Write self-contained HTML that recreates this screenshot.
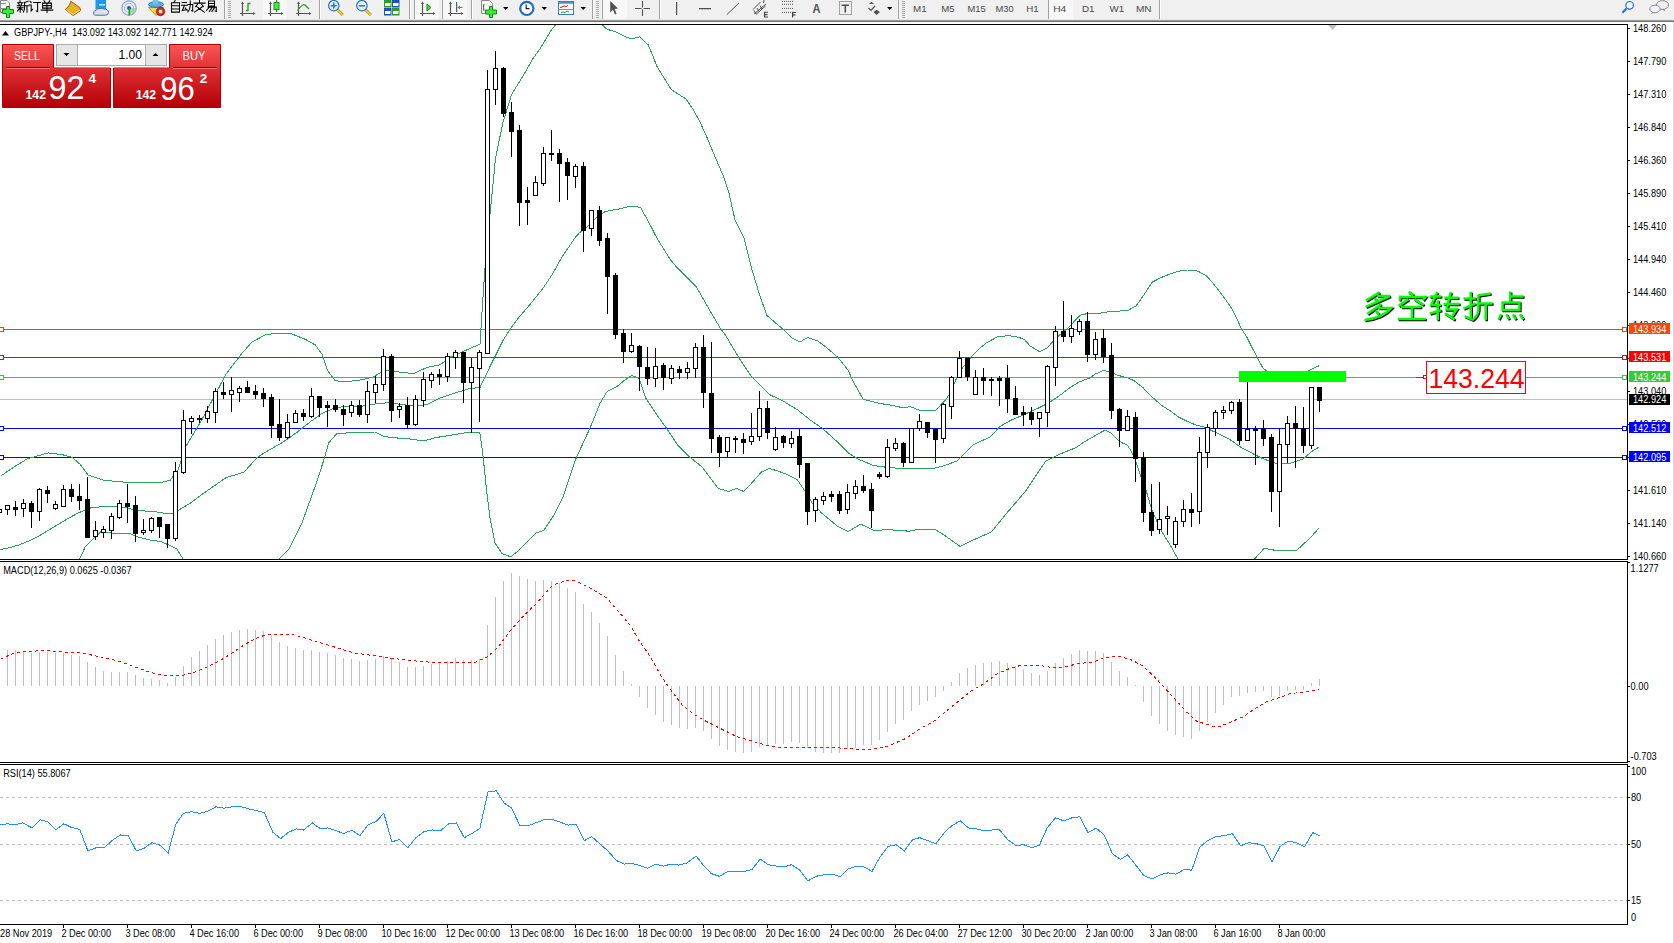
<!DOCTYPE html>
<html><head><meta charset="utf-8"><title>MT4 GBPJPY H4</title>
<style>html,body{margin:0;padding:0;width:1674px;height:943px;overflow:hidden;background:#fff}</style>
</head><body>
<svg width="1674" height="943" viewBox="0 0 1674 943" style="position:absolute;left:0;top:0;font-family:'Liberation Sans',sans-serif"><rect x="0" y="0" width="1674" height="943" fill="#fff"/><rect x="0" y="0" width="1674" height="20" fill="#f0f0f0"/><rect x="0" y="19" width="1674" height="1" fill="#e6e6e6"/><rect x="0" y="20" width="1674" height="1" fill="#a0a0a0"/><rect x="0" y="21" width="1674" height="1" fill="#6e6e6e"/><rect x="0" y="22" width="1674" height="2" fill="#ffffff"/><defs><clipPath id="cMain"><rect x="0" y="25" width="1627" height="534"/></clipPath><clipPath id="cMacd"><rect x="0" y="562" width="1627" height="200"/></clipPath><clipPath id="cRsi"><rect x="0" y="765" width="1627" height="159"/></clipPath></defs><rect x="0" y="24" width="1628" height="1" fill="#000"/><rect x="1627" y="24" width="1" height="536" fill="#000"/><rect x="0" y="559" width="1628" height="1" fill="#000"/><rect x="0" y="561" width="1628" height="1" fill="#000"/><rect x="1627" y="561" width="1" height="202" fill="#000"/><rect x="0" y="762" width="1628" height="1" fill="#000"/><rect x="0" y="764" width="1628" height="1" fill="#000"/><rect x="1627" y="764" width="1" height="161" fill="#000"/><rect x="0" y="924" width="1628" height="1" fill="#000"/><rect x="1673" y="22" width="1" height="921" fill="#d4d4d4"/><rect x="1628" y="28" width="2" height="1" fill="#000"/><text x="1633" y="32" font-size="10" fill="#000" textLength="33.26" lengthAdjust="spacingAndGlyphs">148.260</text><rect x="1628" y="61" width="2" height="1" fill="#000"/><text x="1633" y="65" font-size="10" fill="#000" textLength="33.26" lengthAdjust="spacingAndGlyphs">147.790</text><rect x="1628" y="94" width="2" height="1" fill="#000"/><text x="1633" y="98" font-size="10" fill="#000" textLength="33.26" lengthAdjust="spacingAndGlyphs">147.310</text><rect x="1628" y="127" width="2" height="1" fill="#000"/><text x="1633" y="131" font-size="10" fill="#000" textLength="33.26" lengthAdjust="spacingAndGlyphs">146.840</text><rect x="1628" y="160" width="2" height="1" fill="#000"/><text x="1633" y="164" font-size="10" fill="#000" textLength="33.26" lengthAdjust="spacingAndGlyphs">146.360</text><rect x="1628" y="193" width="2" height="1" fill="#000"/><text x="1633" y="197" font-size="10" fill="#000" textLength="33.26" lengthAdjust="spacingAndGlyphs">145.890</text><rect x="1628" y="226" width="2" height="1" fill="#000"/><text x="1633" y="230" font-size="10" fill="#000" textLength="33.26" lengthAdjust="spacingAndGlyphs">145.410</text><rect x="1628" y="259" width="2" height="1" fill="#000"/><text x="1633" y="263" font-size="10" fill="#000" textLength="33.26" lengthAdjust="spacingAndGlyphs">144.940</text><rect x="1628" y="292" width="2" height="1" fill="#000"/><text x="1633" y="296" font-size="10" fill="#000" textLength="33.26" lengthAdjust="spacingAndGlyphs">144.460</text><rect x="1628" y="325" width="2" height="1" fill="#000"/><text x="1633" y="329" font-size="10" fill="#000" textLength="33.26" lengthAdjust="spacingAndGlyphs">143.990</text><rect x="1628" y="358" width="2" height="1" fill="#000"/><text x="1633" y="362" font-size="10" fill="#000" textLength="33.26" lengthAdjust="spacingAndGlyphs">143.510</text><rect x="1628" y="391" width="2" height="1" fill="#000"/><text x="1633" y="395" font-size="10" fill="#000" textLength="33.26" lengthAdjust="spacingAndGlyphs">143.040</text><rect x="1628" y="424" width="2" height="1" fill="#000"/><text x="1633" y="428" font-size="10" fill="#000" textLength="33.26" lengthAdjust="spacingAndGlyphs">142.560</text><rect x="1628" y="457" width="2" height="1" fill="#000"/><text x="1633" y="461" font-size="10" fill="#000" textLength="33.26" lengthAdjust="spacingAndGlyphs">142.090</text><rect x="1628" y="490" width="2" height="1" fill="#000"/><text x="1633" y="494" font-size="10" fill="#000" textLength="33.26" lengthAdjust="spacingAndGlyphs">141.610</text><rect x="1628" y="523" width="2" height="1" fill="#000"/><text x="1633" y="527" font-size="10" fill="#000" textLength="33.26" lengthAdjust="spacingAndGlyphs">141.140</text><rect x="1628" y="556" width="2" height="1" fill="#000"/><text x="1633" y="560" font-size="10" fill="#000" textLength="33.26" lengthAdjust="spacingAndGlyphs">140.660</text><polygon points="1328,25 1337,25 1332.5,30" fill="#c0c0c0"/><g clip-path="url(#cMain)" shape-rendering="crispEdges"><rect x="0" y="399" width="1627" height="1" fill="#c0c0c0"/><rect x="0" y="329" width="1622" height="1" fill="#ff4500"/><rect x="-0.5" y="327.5" width="4" height="4" fill="#fff" stroke="#ff4500" stroke-width="1"/><rect x="1622.5" y="327.5" width="4" height="4" fill="#fff" stroke="#ff4500" stroke-width="1"/><rect x="0" y="357" width="1622" height="1" fill="#ff0000"/><rect x="-0.5" y="355.5" width="4" height="4" fill="#fff" stroke="#ff0000" stroke-width="1"/><rect x="1622.5" y="355.5" width="4" height="4" fill="#fff" stroke="#ff0000" stroke-width="1"/><rect x="0" y="377" width="1622" height="1" fill="#32cd32"/><rect x="-0.5" y="375.5" width="4" height="4" fill="#fff" stroke="#32cd32" stroke-width="1"/><rect x="1622.5" y="375.5" width="4" height="4" fill="#fff" stroke="#32cd32" stroke-width="1"/><rect x="0" y="428" width="1622" height="1" fill="#0000ff"/><rect x="-0.5" y="426.5" width="4" height="4" fill="#fff" stroke="#0000ff" stroke-width="1"/><rect x="1622.5" y="426.5" width="4" height="4" fill="#fff" stroke="#0000ff" stroke-width="1"/><rect x="0" y="457" width="1622" height="1" fill="#0000ff"/><rect x="-0.5" y="455.5" width="4" height="4" fill="#fff" stroke="#0000ff" stroke-width="1"/><rect x="1622.5" y="455.5" width="4" height="4" fill="#fff" stroke="#0000ff" stroke-width="1"/></g><g clip-path="url(#cMain)" shape-rendering="crispEdges"><polyline points="0.5,476.3 13.8,467.0 27.0,459.0 48.2,452.9 61.5,454.5 72.1,457.2 80.1,464.3 88.0,475.0 103.9,480.3 133.1,482.9 159.7,482.9 170.3,480.3 178.2,469.5 186.2,445.8 202.1,419.3 226.0,374.2 241.1,354.3 251.7,342.3 265.0,334.9 278.2,333.0 291.5,333.8 304.8,339.1 315.4,345.0 322.0,354.3 327.3,370.2 335.3,380.8 347.2,381.6 360.5,380.0 373.7,376.8 384.3,370.2 395.0,371.5 413.5,373.6 426.8,367.5 440.0,364.9 450.7,356.9 461.3,352.4 471.9,347.6 480.0,344.2 482.0,312.1 484.8,270.1 490.2,212.5 495.5,158.5 502.8,122.9 511.7,94.2 520.7,79.8 533.2,58.3 540.5,48.0 551.1,30.5 556.5,23.5 600.5,23.5 607.3,29.4 614.7,31.5 625.3,36.8 631.7,38.9 639.7,36.8 648.1,44.8 651.8,53.3 657.2,67.0 662.5,75.5 671.5,89.8 685.8,98.9 693.2,109.5 699.5,121.1 705.8,134.7 715.9,158.8 723.6,176.7 728.7,191.9 735.0,219.9 743.9,237.7 751.6,268.3 759.2,293.7 766.8,315.3 777.0,324.2 784.6,330.6 792.3,338.2 799.9,342.1 807.5,337.5 817.7,340.8 827.7,348.5 837.9,357.4 848.1,370.1 853.2,381.6 863.3,399.4 878.6,403.2 893.9,405.7 903.7,408.0 910.0,406.6 919.1,410.1 936.0,410.1 941.3,404.3 945.0,400.6 949.8,393.7 954.6,383.1 956.7,377.8 963.1,367.2 965.7,364.0 971.5,356.6 974.7,353.4 980.0,348.1 986.4,342.8 990.5,340.6 998.5,336.3 1009.6,335.8 1019.1,337.4 1024.7,339.8 1030.2,346.1 1039.8,351.7 1047.7,347.7 1054.1,339.8 1060.5,334.2 1068.4,327.9 1074.8,320.7 1080.3,315.1 1087.5,313.6 1098.1,313.5 1108.9,311.7 1127.8,310.5 1136.0,306.0 1143.2,296.0 1152.2,282.2 1161.2,277.5 1173.8,272.6 1181.0,270.8 1187.5,270.0 1193.9,270.0 1199.6,272.0 1207.2,276.4 1213.6,284.0 1218.7,290.4 1225.0,298.7 1231.4,308.2 1236.5,317.8 1241.6,329.2 1246.7,336.8 1251.7,347.0 1256.8,356.6 1263.2,368.6 1268.3,371.8 1287.5,372.5 1308.5,371.0 1316.7,366.5 1319.3,365.8" fill="none" stroke="#2aa65c" stroke-width="1"/><polyline points="0.5,549.5 10.0,547.6 19.6,544.7 29.1,540.9 38.7,536.1 48.2,530.4 57.8,524.7 67.3,518.9 76.8,513.7 86.4,509.4 92.1,507.5 100.6,506.9 117.7,506.9 123.7,507.4 130.8,508.9 140.9,510.7 156.0,511.9 168.0,513.9 174.1,512.9 178.1,510.4 190.2,503.3 199.4,496.2 226.0,477.6 243.8,472.3 257.0,457.7 265.0,452.4 283.5,441.8 296.8,432.5 310.1,421.9 323.3,412.6 336.6,407.3 349.9,406.5 363.1,406.0 379.0,403.3 389.7,402.8 402.9,404.7 416.2,406.0 426.8,404.7 440.0,398.0 456.0,392.7 469.2,388.7 480.0,387.5 485.8,375.1 495.3,356.0 502.9,340.7 510.6,328.3 520.1,315.9 531.6,302.6 543.0,288.2 552.6,273.9 562.1,256.8 570.5,244.5 575.0,237.8 579.4,232.8 587.2,226.7 596.1,217.8 603.9,212.2 609.5,210.5 617.3,209.4 627.3,206.9 636.2,206.6 640.7,207.7 648.5,221.7 656.2,236.7 662.9,247.8 670.7,260.1 676.3,266.8 690.5,281.0 696.3,286.8 703.2,298.8 713.4,316.6 721.0,329.3 725.9,335.8 738.7,357.4 751.4,376.5 769.2,394.3 784.5,401.9 797.2,409.6 809.9,419.7 822.6,428.6 835.4,440.1 848.1,452.8 858.3,459.2 873.5,465.5 888.8,467.6 904.1,468.6 921.9,468.6 934.6,468.1 944.8,465.5 956.9,461.0 973.4,444.6 990.5,436.8 1000.0,426.4 1009.6,420.9 1022.3,415.3 1035.0,409.7 1046.1,404.2 1054.1,399.4 1062.0,393.8 1070.0,387.5 1079.5,381.9 1090.5,377.6 1094.5,374.4 1103.5,370.5 1108.9,371.7 1117.9,375.3 1126.9,377.7 1134.1,380.7 1143.2,387.9 1150.5,395.5 1155.9,400.3 1161.3,405.2 1169.9,410.6 1178.5,417.0 1186.0,420.8 1194.6,424.5 1204.3,427.2 1215.0,432.1 1230.1,439.6 1239.7,446.6 1253.7,454.1 1263.4,458.9 1277.4,463.8 1290.3,463.2 1303.2,458.9 1311.8,451.4 1319.3,446.9" fill="none" stroke="#2aa65c" stroke-width="1"/><polyline points="77.5,563.5 85.4,546.5 93.3,538.6 100.6,532.0 110.6,533.0 128.8,533.0 138.4,537.3 150.9,540.1 161.0,541.6 169.0,545.1 177.1,549.2 183.5,559.8 185.0,563.5" fill="none" stroke="#2aa65c" stroke-width="1"/><polyline points="274.5,563.5 288.9,549.2 302.1,522.7 315.4,485.6 323.3,461.7 328.6,443.1 336.6,433.8 352.5,432.5 375.1,432.0 384.3,436.5 395.0,437.8 410.9,439.1 424.1,441.0 434.7,437.8 450.7,435.2 463.9,433.0 479.8,432.9 482.7,452.5 486.4,489.0 490.0,518.3 494.9,542.7 502.2,553.7 510.7,556.8 519.3,550.0 536.4,532.9 543.7,530.5 553.4,515.9 563.2,496.4 575.4,459.8 590.0,428.1 599.8,403.7 607.1,391.5 616.8,386.6 624.2,380.5 631.5,375.6 638.8,378.1 646.1,398.8 655.9,413.4 668.1,430.5 677.8,445.1 690.0,457.3 702.2,467.1 710.7,478.3 718.3,488.4 728.5,491.5 736.1,488.4 743.8,491.5 751.4,483.3 761.6,471.9 769.2,468.6 776.8,470.6 787.0,474.4 797.2,479.5 804.8,491.0 812.5,503.7 822.6,513.9 837.9,526.6 848.1,531.7 860.8,524.1 873.5,530.4 888.8,529.7 909.2,531.2 919.3,529.2 934.6,529.2 944.8,535.5 960.2,546.5 973.4,540.0 991.5,531.8 1006.3,513.7 1026.0,490.6 1045.8,461.0 1058.9,454.4 1075.4,447.9 1085.2,441.3 1105.0,430.1 1110.9,433.1 1116.8,439.0 1122.0,442.8 1127.2,445.0 1130.2,449.4 1134.6,457.6 1140.6,475.4 1146.5,491.7 1151.7,509.5 1156.9,521.4 1162.8,533.3 1170.2,545.1 1177.7,558.5 1179.5,563.5" fill="none" stroke="#2aa65c" stroke-width="1"/><polyline points="1250.5,563.5 1264.1,548.4 1277.0,550.6 1296.4,550.6 1309.4,538.7 1319.1,528.0" fill="none" stroke="#2aa65c" stroke-width="1"/></g><g clip-path="url(#cMain)" shape-rendering="crispEdges"><rect x="-1" y="509" width="1" height="4" fill="#000"/><rect x="-3" y="509" width="5" height="4" fill="#000"/><rect x="-2" y="510" width="3" height="2" fill="#fff"/><rect x="7" y="505" width="1" height="10" fill="#000"/><rect x="5" y="505" width="5" height="5" fill="#000"/><rect x="6" y="506" width="3" height="3" fill="#fff"/><rect x="15" y="501" width="1" height="15" fill="#000"/><rect x="13" y="507" width="5" height="3" fill="#000"/><rect x="23" y="499" width="1" height="18" fill="#000"/><rect x="21" y="503" width="5" height="6" fill="#000"/><rect x="22" y="504" width="3" height="4" fill="#fff"/><rect x="31" y="501" width="1" height="27" fill="#000"/><rect x="29" y="503" width="5" height="9" fill="#000"/><rect x="39" y="488" width="1" height="33" fill="#000"/><rect x="37" y="489" width="5" height="23" fill="#000"/><rect x="38" y="490" width="3" height="21" fill="#fff"/><rect x="47" y="486" width="1" height="17" fill="#000"/><rect x="45" y="490" width="5" height="4" fill="#000"/><rect x="55" y="501" width="1" height="9" fill="#000"/><rect x="53" y="504" width="5" height="5" fill="#000"/><rect x="54" y="505" width="3" height="3" fill="#fff"/><rect x="63" y="485" width="1" height="22" fill="#000"/><rect x="61" y="489" width="5" height="18" fill="#000"/><rect x="62" y="490" width="3" height="16" fill="#fff"/><rect x="71" y="484" width="1" height="18" fill="#000"/><rect x="69" y="489" width="5" height="8" fill="#000"/><rect x="79" y="484" width="1" height="26" fill="#000"/><rect x="77" y="496" width="5" height="5" fill="#000"/><rect x="87" y="477" width="1" height="61" fill="#000"/><rect x="85" y="499" width="5" height="39" fill="#000"/><rect x="95" y="521" width="1" height="19" fill="#000"/><rect x="93" y="530" width="5" height="7" fill="#000"/><rect x="94" y="531" width="3" height="5" fill="#fff"/><rect x="103" y="526" width="1" height="12" fill="#000"/><rect x="101" y="529" width="5" height="4" fill="#000"/><rect x="102" y="530" width="3" height="2" fill="#fff"/><rect x="111" y="513" width="1" height="26" fill="#000"/><rect x="109" y="516" width="5" height="15" fill="#000"/><rect x="110" y="517" width="3" height="13" fill="#fff"/><rect x="119" y="500" width="1" height="19" fill="#000"/><rect x="117" y="503" width="5" height="15" fill="#000"/><rect x="118" y="504" width="3" height="13" fill="#fff"/><rect x="127" y="484" width="1" height="39" fill="#000"/><rect x="125" y="503" width="5" height="4" fill="#000"/><rect x="135" y="496" width="1" height="46" fill="#000"/><rect x="133" y="505" width="5" height="29" fill="#000"/><rect x="143" y="519" width="1" height="16" fill="#000"/><rect x="141" y="530" width="5" height="3" fill="#000"/><rect x="142" y="531" width="3" height="1" fill="#fff"/><rect x="151" y="517" width="1" height="16" fill="#000"/><rect x="149" y="518" width="5" height="13" fill="#000"/><rect x="150" y="519" width="3" height="11" fill="#fff"/><rect x="159" y="517" width="1" height="21" fill="#000"/><rect x="157" y="517" width="5" height="10" fill="#000"/><rect x="167" y="524" width="1" height="24" fill="#000"/><rect x="165" y="524" width="5" height="15" fill="#000"/><rect x="175" y="462" width="1" height="79" fill="#000"/><rect x="173" y="471" width="5" height="68" fill="#000"/><rect x="174" y="472" width="3" height="66" fill="#fff"/><rect x="183" y="410" width="1" height="64" fill="#000"/><rect x="181" y="420" width="5" height="53" fill="#000"/><rect x="182" y="421" width="3" height="51" fill="#fff"/><rect x="191" y="416" width="1" height="18" fill="#000"/><rect x="189" y="418" width="5" height="4" fill="#000"/><rect x="190" y="419" width="3" height="2" fill="#fff"/><rect x="199" y="415" width="1" height="8" fill="#000"/><rect x="197" y="418" width="5" height="2" fill="#000"/><rect x="207" y="406" width="1" height="17" fill="#000"/><rect x="205" y="411" width="5" height="8" fill="#000"/><rect x="206" y="412" width="3" height="6" fill="#fff"/><rect x="215" y="388" width="1" height="35" fill="#000"/><rect x="213" y="391" width="5" height="22" fill="#000"/><rect x="214" y="392" width="3" height="20" fill="#fff"/><rect x="223" y="382" width="1" height="17" fill="#000"/><rect x="221" y="392" width="5" height="3" fill="#000"/><rect x="231" y="377" width="1" height="35" fill="#000"/><rect x="229" y="390" width="5" height="5" fill="#000"/><rect x="230" y="391" width="3" height="3" fill="#fff"/><rect x="239" y="386" width="1" height="16" fill="#000"/><rect x="237" y="388" width="5" height="5" fill="#000"/><rect x="238" y="389" width="3" height="3" fill="#fff"/><rect x="247" y="381" width="1" height="12" fill="#000"/><rect x="245" y="387" width="5" height="6" fill="#000"/><rect x="255" y="385" width="1" height="14" fill="#000"/><rect x="253" y="391" width="5" height="4" fill="#000"/><rect x="263" y="388" width="1" height="19" fill="#000"/><rect x="261" y="393" width="5" height="6" fill="#000"/><rect x="271" y="394" width="1" height="44" fill="#000"/><rect x="269" y="397" width="5" height="29" fill="#000"/><rect x="279" y="399" width="1" height="42" fill="#000"/><rect x="277" y="424" width="5" height="14" fill="#000"/><rect x="287" y="414" width="1" height="25" fill="#000"/><rect x="285" y="422" width="5" height="16" fill="#000"/><rect x="286" y="423" width="3" height="14" fill="#fff"/><rect x="295" y="410" width="1" height="13" fill="#000"/><rect x="293" y="413" width="5" height="10" fill="#000"/><rect x="294" y="414" width="3" height="8" fill="#fff"/><rect x="303" y="409" width="1" height="12" fill="#000"/><rect x="301" y="413" width="5" height="4" fill="#000"/><rect x="311" y="388" width="1" height="30" fill="#000"/><rect x="309" y="396" width="5" height="21" fill="#000"/><rect x="310" y="397" width="3" height="19" fill="#fff"/><rect x="319" y="396" width="1" height="21" fill="#000"/><rect x="317" y="396" width="5" height="12" fill="#000"/><rect x="327" y="401" width="1" height="26" fill="#000"/><rect x="325" y="405" width="5" height="3" fill="#000"/><rect x="335" y="399" width="1" height="13" fill="#000"/><rect x="333" y="405" width="5" height="5" fill="#000"/><rect x="343" y="405" width="1" height="21" fill="#000"/><rect x="341" y="409" width="5" height="6" fill="#000"/><rect x="351" y="401" width="1" height="16" fill="#000"/><rect x="349" y="405" width="5" height="8" fill="#000"/><rect x="350" y="406" width="3" height="6" fill="#fff"/><rect x="359" y="400" width="1" height="17" fill="#000"/><rect x="357" y="405" width="5" height="10" fill="#000"/><rect x="367" y="381" width="1" height="42" fill="#000"/><rect x="365" y="391" width="5" height="24" fill="#000"/><rect x="366" y="392" width="3" height="22" fill="#fff"/><rect x="375" y="376" width="1" height="27" fill="#000"/><rect x="373" y="384" width="5" height="9" fill="#000"/><rect x="374" y="385" width="3" height="7" fill="#fff"/><rect x="383" y="349" width="1" height="42" fill="#000"/><rect x="381" y="356" width="5" height="29" fill="#000"/><rect x="382" y="357" width="3" height="27" fill="#fff"/><rect x="391" y="354" width="1" height="68" fill="#000"/><rect x="389" y="356" width="5" height="55" fill="#000"/><rect x="399" y="403" width="1" height="15" fill="#000"/><rect x="397" y="406" width="5" height="4" fill="#000"/><rect x="398" y="407" width="3" height="2" fill="#fff"/><rect x="407" y="397" width="1" height="31" fill="#000"/><rect x="405" y="405" width="5" height="20" fill="#000"/><rect x="415" y="395" width="1" height="31" fill="#000"/><rect x="413" y="399" width="5" height="26" fill="#000"/><rect x="414" y="400" width="3" height="24" fill="#fff"/><rect x="423" y="372" width="1" height="35" fill="#000"/><rect x="421" y="379" width="5" height="22" fill="#000"/><rect x="422" y="380" width="3" height="20" fill="#fff"/><rect x="431" y="372" width="1" height="16" fill="#000"/><rect x="429" y="374" width="5" height="7" fill="#000"/><rect x="430" y="375" width="3" height="5" fill="#fff"/><rect x="439" y="369" width="1" height="16" fill="#000"/><rect x="437" y="374" width="5" height="3" fill="#000"/><rect x="447" y="353" width="1" height="29" fill="#000"/><rect x="445" y="356" width="5" height="21" fill="#000"/><rect x="446" y="357" width="3" height="19" fill="#fff"/><rect x="455" y="350" width="1" height="19" fill="#000"/><rect x="453" y="352" width="5" height="6" fill="#000"/><rect x="454" y="353" width="3" height="4" fill="#fff"/><rect x="463" y="352" width="1" height="51" fill="#000"/><rect x="461" y="352" width="5" height="31" fill="#000"/><rect x="471" y="358" width="1" height="75" fill="#000"/><rect x="469" y="367" width="5" height="16" fill="#000"/><rect x="470" y="368" width="3" height="14" fill="#fff"/><rect x="479" y="350" width="1" height="72" fill="#000"/><rect x="477" y="352" width="5" height="17" fill="#000"/><rect x="478" y="353" width="3" height="15" fill="#fff"/><rect x="487" y="70" width="1" height="284" fill="#000"/><rect x="485" y="89" width="5" height="265" fill="#000"/><rect x="486" y="90" width="3" height="263" fill="#fff"/><rect x="495" y="51" width="1" height="54" fill="#000"/><rect x="493" y="68" width="5" height="22" fill="#000"/><rect x="494" y="69" width="3" height="20" fill="#fff"/><rect x="503" y="67" width="1" height="50" fill="#000"/><rect x="501" y="68" width="5" height="46" fill="#000"/><rect x="511" y="102" width="1" height="55" fill="#000"/><rect x="509" y="112" width="5" height="20" fill="#000"/><rect x="519" y="125" width="1" height="101" fill="#000"/><rect x="517" y="130" width="5" height="73" fill="#000"/><rect x="527" y="187" width="1" height="38" fill="#000"/><rect x="525" y="200" width="5" height="3" fill="#000"/><rect x="535" y="176" width="1" height="20" fill="#000"/><rect x="533" y="182" width="5" height="14" fill="#000"/><rect x="534" y="183" width="3" height="12" fill="#fff"/><rect x="543" y="147" width="1" height="39" fill="#000"/><rect x="541" y="153" width="5" height="31" fill="#000"/><rect x="542" y="154" width="3" height="29" fill="#fff"/><rect x="551" y="130" width="1" height="31" fill="#000"/><rect x="549" y="153" width="5" height="2" fill="#000"/><rect x="559" y="149" width="1" height="53" fill="#000"/><rect x="557" y="153" width="5" height="11" fill="#000"/><rect x="567" y="158" width="1" height="42" fill="#000"/><rect x="565" y="162" width="5" height="14" fill="#000"/><rect x="575" y="164" width="1" height="24" fill="#000"/><rect x="573" y="166" width="5" height="11" fill="#000"/><rect x="574" y="167" width="3" height="9" fill="#fff"/><rect x="583" y="162" width="1" height="90" fill="#000"/><rect x="581" y="166" width="5" height="65" fill="#000"/><rect x="591" y="210" width="1" height="26" fill="#000"/><rect x="589" y="210" width="5" height="19" fill="#000"/><rect x="590" y="211" width="3" height="17" fill="#fff"/><rect x="599" y="206" width="1" height="40" fill="#000"/><rect x="597" y="210" width="5" height="31" fill="#000"/><rect x="607" y="233" width="1" height="81" fill="#000"/><rect x="605" y="238" width="5" height="39" fill="#000"/><rect x="615" y="273" width="1" height="66" fill="#000"/><rect x="613" y="275" width="5" height="60" fill="#000"/><rect x="623" y="329" width="1" height="34" fill="#000"/><rect x="621" y="333" width="5" height="19" fill="#000"/><rect x="631" y="333" width="1" height="20" fill="#000"/><rect x="629" y="345" width="5" height="7" fill="#000"/><rect x="630" y="346" width="3" height="5" fill="#fff"/><rect x="639" y="345" width="1" height="46" fill="#000"/><rect x="637" y="346" width="5" height="21" fill="#000"/><rect x="647" y="347" width="1" height="38" fill="#000"/><rect x="645" y="367" width="5" height="12" fill="#000"/><rect x="655" y="348" width="1" height="39" fill="#000"/><rect x="653" y="366" width="5" height="13" fill="#000"/><rect x="654" y="367" width="3" height="11" fill="#fff"/><rect x="663" y="363" width="1" height="27" fill="#000"/><rect x="661" y="365" width="5" height="13" fill="#000"/><rect x="671" y="365" width="1" height="19" fill="#000"/><rect x="669" y="368" width="5" height="11" fill="#000"/><rect x="670" y="369" width="3" height="9" fill="#fff"/><rect x="679" y="366" width="1" height="13" fill="#000"/><rect x="677" y="369" width="5" height="4" fill="#000"/><rect x="687" y="362" width="1" height="17" fill="#000"/><rect x="685" y="368" width="5" height="5" fill="#000"/><rect x="686" y="369" width="3" height="3" fill="#fff"/><rect x="695" y="343" width="1" height="35" fill="#000"/><rect x="693" y="347" width="5" height="22" fill="#000"/><rect x="694" y="348" width="3" height="20" fill="#fff"/><rect x="703" y="335" width="1" height="73" fill="#000"/><rect x="701" y="347" width="5" height="46" fill="#000"/><rect x="711" y="342" width="1" height="111" fill="#000"/><rect x="709" y="393" width="5" height="46" fill="#000"/><rect x="719" y="435" width="1" height="32" fill="#000"/><rect x="717" y="437" width="5" height="16" fill="#000"/><rect x="727" y="437" width="1" height="20" fill="#000"/><rect x="725" y="437" width="5" height="15" fill="#000"/><rect x="726" y="438" width="3" height="13" fill="#fff"/><rect x="735" y="436" width="1" height="17" fill="#000"/><rect x="733" y="438" width="5" height="2" fill="#000"/><rect x="743" y="433" width="1" height="21" fill="#000"/><rect x="741" y="439" width="5" height="4" fill="#000"/><rect x="751" y="413" width="1" height="32" fill="#000"/><rect x="749" y="436" width="5" height="6" fill="#000"/><rect x="750" y="437" width="3" height="4" fill="#fff"/><rect x="759" y="391" width="1" height="50" fill="#000"/><rect x="757" y="408" width="5" height="29" fill="#000"/><rect x="758" y="409" width="3" height="27" fill="#fff"/><rect x="767" y="401" width="1" height="38" fill="#000"/><rect x="765" y="408" width="5" height="25" fill="#000"/><rect x="775" y="427" width="1" height="24" fill="#000"/><rect x="773" y="437" width="5" height="13" fill="#000"/><rect x="774" y="438" width="3" height="11" fill="#fff"/><rect x="783" y="435" width="1" height="13" fill="#000"/><rect x="781" y="436" width="5" height="7" fill="#000"/><rect x="791" y="431" width="1" height="17" fill="#000"/><rect x="789" y="438" width="5" height="6" fill="#000"/><rect x="790" y="439" width="3" height="4" fill="#fff"/><rect x="799" y="429" width="1" height="49" fill="#000"/><rect x="797" y="436" width="5" height="29" fill="#000"/><rect x="807" y="463" width="1" height="62" fill="#000"/><rect x="805" y="463" width="5" height="49" fill="#000"/><rect x="815" y="497" width="1" height="25" fill="#000"/><rect x="813" y="499" width="5" height="12" fill="#000"/><rect x="814" y="500" width="3" height="10" fill="#fff"/><rect x="823" y="492" width="1" height="13" fill="#000"/><rect x="821" y="496" width="5" height="5" fill="#000"/><rect x="822" y="497" width="3" height="3" fill="#fff"/><rect x="831" y="491" width="1" height="11" fill="#000"/><rect x="829" y="494" width="5" height="3" fill="#000"/><rect x="839" y="491" width="1" height="23" fill="#000"/><rect x="837" y="494" width="5" height="17" fill="#000"/><rect x="847" y="484" width="1" height="30" fill="#000"/><rect x="845" y="492" width="5" height="18" fill="#000"/><rect x="846" y="493" width="3" height="16" fill="#fff"/><rect x="855" y="480" width="1" height="19" fill="#000"/><rect x="853" y="486" width="5" height="8" fill="#000"/><rect x="854" y="487" width="3" height="6" fill="#fff"/><rect x="863" y="475" width="1" height="18" fill="#000"/><rect x="861" y="486" width="5" height="5" fill="#000"/><rect x="871" y="483" width="1" height="45" fill="#000"/><rect x="869" y="489" width="5" height="22" fill="#000"/><rect x="879" y="472" width="1" height="7" fill="#000"/><rect x="877" y="474" width="5" height="3" fill="#000"/><rect x="887" y="439" width="1" height="39" fill="#000"/><rect x="885" y="447" width="5" height="30" fill="#000"/><rect x="886" y="448" width="3" height="28" fill="#fff"/><rect x="895" y="438" width="1" height="13" fill="#000"/><rect x="893" y="443" width="5" height="6" fill="#000"/><rect x="894" y="444" width="3" height="4" fill="#fff"/><rect x="903" y="442" width="1" height="25" fill="#000"/><rect x="901" y="443" width="5" height="20" fill="#000"/><rect x="911" y="428" width="1" height="35" fill="#000"/><rect x="909" y="428" width="5" height="35" fill="#000"/><rect x="910" y="429" width="3" height="33" fill="#fff"/><rect x="919" y="414" width="1" height="17" fill="#000"/><rect x="917" y="421" width="5" height="8" fill="#000"/><rect x="918" y="422" width="3" height="6" fill="#fff"/><rect x="927" y="422" width="1" height="16" fill="#000"/><rect x="925" y="422" width="5" height="11" fill="#000"/><rect x="935" y="428" width="1" height="35" fill="#000"/><rect x="933" y="429" width="5" height="11" fill="#000"/><rect x="943" y="403" width="1" height="40" fill="#000"/><rect x="941" y="404" width="5" height="35" fill="#000"/><rect x="942" y="405" width="3" height="33" fill="#fff"/><rect x="951" y="376" width="1" height="43" fill="#000"/><rect x="949" y="377" width="5" height="30" fill="#000"/><rect x="950" y="378" width="3" height="28" fill="#fff"/><rect x="959" y="351" width="1" height="27" fill="#000"/><rect x="957" y="358" width="5" height="20" fill="#000"/><rect x="958" y="359" width="3" height="18" fill="#fff"/><rect x="967" y="358" width="1" height="23" fill="#000"/><rect x="965" y="358" width="5" height="19" fill="#000"/><rect x="975" y="370" width="1" height="25" fill="#000"/><rect x="973" y="377" width="5" height="18" fill="#000"/><rect x="974" y="378" width="3" height="16" fill="#fff"/><rect x="983" y="368" width="1" height="27" fill="#000"/><rect x="981" y="377" width="5" height="4" fill="#000"/><rect x="991" y="377" width="1" height="19" fill="#000"/><rect x="989" y="379" width="5" height="2" fill="#000"/><rect x="999" y="376" width="1" height="30" fill="#000"/><rect x="997" y="378" width="5" height="3" fill="#000"/><rect x="1007" y="365" width="1" height="48" fill="#000"/><rect x="1005" y="378" width="5" height="21" fill="#000"/><rect x="1015" y="386" width="1" height="29" fill="#000"/><rect x="1013" y="398" width="5" height="17" fill="#000"/><rect x="1023" y="406" width="1" height="20" fill="#000"/><rect x="1021" y="412" width="5" height="3" fill="#000"/><rect x="1031" y="407" width="1" height="18" fill="#000"/><rect x="1029" y="412" width="5" height="8" fill="#000"/><rect x="1039" y="412" width="1" height="25" fill="#000"/><rect x="1037" y="412" width="5" height="7" fill="#000"/><rect x="1038" y="413" width="3" height="5" fill="#fff"/><rect x="1047" y="365" width="1" height="62" fill="#000"/><rect x="1045" y="366" width="5" height="47" fill="#000"/><rect x="1046" y="367" width="3" height="45" fill="#fff"/><rect x="1055" y="326" width="1" height="60" fill="#000"/><rect x="1053" y="331" width="5" height="37" fill="#000"/><rect x="1054" y="332" width="3" height="35" fill="#fff"/><rect x="1063" y="301" width="1" height="41" fill="#000"/><rect x="1061" y="331" width="5" height="6" fill="#000"/><rect x="1071" y="315" width="1" height="28" fill="#000"/><rect x="1069" y="328" width="5" height="9" fill="#000"/><rect x="1070" y="329" width="3" height="7" fill="#fff"/><rect x="1079" y="319" width="1" height="16" fill="#000"/><rect x="1077" y="321" width="5" height="11" fill="#000"/><rect x="1078" y="322" width="3" height="9" fill="#fff"/><rect x="1087" y="312" width="1" height="50" fill="#000"/><rect x="1085" y="321" width="5" height="34" fill="#000"/><rect x="1095" y="332" width="1" height="28" fill="#000"/><rect x="1093" y="339" width="5" height="16" fill="#000"/><rect x="1094" y="340" width="3" height="14" fill="#fff"/><rect x="1103" y="329" width="1" height="34" fill="#000"/><rect x="1101" y="338" width="5" height="19" fill="#000"/><rect x="1111" y="343" width="1" height="76" fill="#000"/><rect x="1109" y="355" width="5" height="56" fill="#000"/><rect x="1119" y="408" width="1" height="39" fill="#000"/><rect x="1117" y="409" width="5" height="22" fill="#000"/><rect x="1127" y="410" width="1" height="21" fill="#000"/><rect x="1125" y="416" width="5" height="15" fill="#000"/><rect x="1126" y="417" width="3" height="13" fill="#fff"/><rect x="1135" y="412" width="1" height="70" fill="#000"/><rect x="1133" y="417" width="5" height="42" fill="#000"/><rect x="1143" y="452" width="1" height="70" fill="#000"/><rect x="1141" y="457" width="5" height="56" fill="#000"/><rect x="1151" y="484" width="1" height="52" fill="#000"/><rect x="1149" y="512" width="5" height="19" fill="#000"/><rect x="1159" y="482" width="1" height="52" fill="#000"/><rect x="1157" y="519" width="5" height="11" fill="#000"/><rect x="1158" y="520" width="3" height="9" fill="#fff"/><rect x="1167" y="506" width="1" height="29" fill="#000"/><rect x="1165" y="516" width="5" height="3" fill="#000"/><rect x="1166" y="517" width="3" height="1" fill="#fff"/><rect x="1175" y="517" width="1" height="31" fill="#000"/><rect x="1173" y="521" width="5" height="24" fill="#000"/><rect x="1174" y="522" width="3" height="22" fill="#fff"/><rect x="1183" y="500" width="1" height="27" fill="#000"/><rect x="1181" y="509" width="5" height="13" fill="#000"/><rect x="1182" y="510" width="3" height="11" fill="#fff"/><rect x="1191" y="493" width="1" height="34" fill="#000"/><rect x="1189" y="509" width="5" height="4" fill="#000"/><rect x="1199" y="437" width="1" height="87" fill="#000"/><rect x="1197" y="452" width="5" height="60" fill="#000"/><rect x="1198" y="453" width="3" height="58" fill="#fff"/><rect x="1207" y="424" width="1" height="44" fill="#000"/><rect x="1205" y="427" width="5" height="26" fill="#000"/><rect x="1206" y="428" width="3" height="24" fill="#fff"/><rect x="1215" y="410" width="1" height="26" fill="#000"/><rect x="1213" y="412" width="5" height="17" fill="#000"/><rect x="1214" y="413" width="3" height="15" fill="#fff"/><rect x="1223" y="406" width="1" height="13" fill="#000"/><rect x="1221" y="410" width="5" height="3" fill="#000"/><rect x="1222" y="411" width="3" height="1" fill="#fff"/><rect x="1231" y="401" width="1" height="13" fill="#000"/><rect x="1229" y="402" width="5" height="9" fill="#000"/><rect x="1230" y="403" width="3" height="7" fill="#fff"/><rect x="1239" y="399" width="1" height="46" fill="#000"/><rect x="1237" y="402" width="5" height="39" fill="#000"/><rect x="1247" y="376" width="1" height="65" fill="#000"/><rect x="1245" y="429" width="5" height="12" fill="#000"/><rect x="1246" y="430" width="3" height="10" fill="#fff"/><rect x="1255" y="426" width="1" height="39" fill="#000"/><rect x="1253" y="429" width="5" height="2" fill="#000"/><rect x="1263" y="420" width="1" height="26" fill="#000"/><rect x="1261" y="428" width="5" height="11" fill="#000"/><rect x="1271" y="434" width="1" height="78" fill="#000"/><rect x="1269" y="437" width="5" height="55" fill="#000"/><rect x="1279" y="428" width="1" height="99" fill="#000"/><rect x="1277" y="444" width="5" height="48" fill="#000"/><rect x="1278" y="445" width="3" height="46" fill="#fff"/><rect x="1287" y="416" width="1" height="47" fill="#000"/><rect x="1285" y="423" width="5" height="22" fill="#000"/><rect x="1286" y="424" width="3" height="20" fill="#fff"/><rect x="1295" y="406" width="1" height="62" fill="#000"/><rect x="1293" y="423" width="5" height="6" fill="#000"/><rect x="1303" y="407" width="1" height="46" fill="#000"/><rect x="1301" y="428" width="5" height="18" fill="#000"/><rect x="1311" y="387" width="1" height="62" fill="#000"/><rect x="1309" y="387" width="5" height="59" fill="#000"/><rect x="1310" y="388" width="3" height="57" fill="#fff"/><rect x="1319" y="387" width="1" height="25" fill="#000"/><rect x="1317" y="387" width="5" height="14" fill="#000"/></g><rect x="1239" y="371" width="107" height="11" fill="#00ff00"/><rect x="1629" y="323" width="41" height="11" fill="#ff4500"/><text x="1633" y="333" font-size="10" fill="#fff" textLength="33.26" lengthAdjust="spacingAndGlyphs">143.934</text><rect x="1629" y="351" width="41" height="11" fill="#ff0000"/><text x="1633" y="361" font-size="10" fill="#fff" textLength="33.26" lengthAdjust="spacingAndGlyphs">143.531</text><rect x="1629" y="371" width="41" height="11" fill="#32cd32"/><text x="1633" y="381" font-size="10" fill="#fff" textLength="33.26" lengthAdjust="spacingAndGlyphs">143.244</text><rect x="1629" y="422" width="41" height="11" fill="#0000ff"/><text x="1633" y="432" font-size="10" fill="#fff" textLength="33.26" lengthAdjust="spacingAndGlyphs">142.512</text><rect x="1629" y="451" width="41" height="11" fill="#0000ff"/><text x="1633" y="461" font-size="10" fill="#fff" textLength="33.26" lengthAdjust="spacingAndGlyphs">142.095</text><rect x="1629" y="394" width="41" height="11" fill="#000"/><text x="1633" y="403" font-size="10" fill="#fff" textLength="33.26" lengthAdjust="spacingAndGlyphs">142.924</text><rect x="1416" y="377" width="8" height="1" fill="#ff0000"/><rect x="1423.5" y="375.5" width="3" height="3" fill="#fff" stroke="#ff0000" stroke-width="1"/><rect x="1426.5" y="361.5" width="99" height="32" fill="#fff" stroke="#ff0000" stroke-width="1" shape-rendering="crispEdges"/><text x="1428.5" y="388" font-size="28" fill="#ff0000" textLength="96" lengthAdjust="spacingAndGlyphs">143.244</text><polygon points="2,35.5 9,35.5 5.5,31" fill="#000"/><text x="14" y="36" font-size="10" fill="#000" textLength="198.64" lengthAdjust="spacingAndGlyphs">GBPJPY-,H4&#160;&#160;143.092 143.092 142.771 142.924</text><g clip-path="url(#cMacd)" shape-rendering="crispEdges"><rect x="7" y="650" width="1" height="36" fill="#c0c0c0"/><rect x="15" y="650" width="1" height="36" fill="#c0c0c0"/><rect x="23" y="652" width="1" height="34" fill="#c0c0c0"/><rect x="31" y="653" width="1" height="33" fill="#c0c0c0"/><rect x="39" y="652" width="1" height="34" fill="#c0c0c0"/><rect x="47" y="652" width="1" height="34" fill="#c0c0c0"/><rect x="55" y="653" width="1" height="33" fill="#c0c0c0"/><rect x="63" y="653" width="1" height="33" fill="#c0c0c0"/><rect x="71" y="655" width="1" height="31" fill="#c0c0c0"/><rect x="79" y="656" width="1" height="30" fill="#c0c0c0"/><rect x="87" y="662" width="1" height="24" fill="#c0c0c0"/><rect x="95" y="667" width="1" height="19" fill="#c0c0c0"/><rect x="103" y="671" width="1" height="15" fill="#c0c0c0"/><rect x="111" y="672" width="1" height="14" fill="#c0c0c0"/><rect x="119" y="672" width="1" height="14" fill="#c0c0c0"/><rect x="127" y="672" width="1" height="14" fill="#c0c0c0"/><rect x="135" y="675" width="1" height="11" fill="#c0c0c0"/><rect x="143" y="678" width="1" height="8" fill="#c0c0c0"/><rect x="151" y="679" width="1" height="7" fill="#c0c0c0"/><rect x="159" y="680" width="1" height="6" fill="#c0c0c0"/><rect x="167" y="683" width="1" height="3" fill="#c0c0c0"/><rect x="175" y="677" width="1" height="9" fill="#c0c0c0"/><rect x="183" y="666" width="1" height="20" fill="#c0c0c0"/><rect x="191" y="657" width="1" height="29" fill="#c0c0c0"/><rect x="199" y="651" width="1" height="35" fill="#c0c0c0"/><rect x="207" y="645" width="1" height="41" fill="#c0c0c0"/><rect x="215" y="639" width="1" height="47" fill="#c0c0c0"/><rect x="223" y="635" width="1" height="51" fill="#c0c0c0"/><rect x="231" y="632" width="1" height="54" fill="#c0c0c0"/><rect x="239" y="630" width="1" height="56" fill="#c0c0c0"/><rect x="247" y="629" width="1" height="57" fill="#c0c0c0"/><rect x="255" y="630" width="1" height="56" fill="#c0c0c0"/><rect x="263" y="631" width="1" height="55" fill="#c0c0c0"/><rect x="271" y="636" width="1" height="50" fill="#c0c0c0"/><rect x="279" y="642" width="1" height="44" fill="#c0c0c0"/><rect x="287" y="646" width="1" height="40" fill="#c0c0c0"/><rect x="295" y="648" width="1" height="38" fill="#c0c0c0"/><rect x="303" y="650" width="1" height="36" fill="#c0c0c0"/><rect x="311" y="650" width="1" height="36" fill="#c0c0c0"/><rect x="319" y="652" width="1" height="34" fill="#c0c0c0"/><rect x="327" y="653" width="1" height="33" fill="#c0c0c0"/><rect x="335" y="655" width="1" height="31" fill="#c0c0c0"/><rect x="343" y="658" width="1" height="28" fill="#c0c0c0"/><rect x="351" y="659" width="1" height="27" fill="#c0c0c0"/><rect x="359" y="661" width="1" height="25" fill="#c0c0c0"/><rect x="367" y="660" width="1" height="26" fill="#c0c0c0"/><rect x="375" y="659" width="1" height="27" fill="#c0c0c0"/><rect x="383" y="656" width="1" height="30" fill="#c0c0c0"/><rect x="391" y="659" width="1" height="27" fill="#c0c0c0"/><rect x="399" y="662" width="1" height="24" fill="#c0c0c0"/><rect x="407" y="667" width="1" height="19" fill="#c0c0c0"/><rect x="415" y="667" width="1" height="19" fill="#c0c0c0"/><rect x="423" y="666" width="1" height="20" fill="#c0c0c0"/><rect x="431" y="664" width="1" height="22" fill="#c0c0c0"/><rect x="439" y="662" width="1" height="24" fill="#c0c0c0"/><rect x="447" y="661" width="1" height="25" fill="#c0c0c0"/><rect x="455" y="658" width="1" height="28" fill="#c0c0c0"/><rect x="463" y="660" width="1" height="26" fill="#c0c0c0"/><rect x="471" y="660" width="1" height="26" fill="#c0c0c0"/><rect x="479" y="659" width="1" height="27" fill="#c0c0c0"/><rect x="487" y="625" width="1" height="61" fill="#c0c0c0"/><rect x="495" y="597" width="1" height="89" fill="#c0c0c0"/><rect x="503" y="581" width="1" height="105" fill="#c0c0c0"/><rect x="511" y="573" width="1" height="113" fill="#c0c0c0"/><rect x="519" y="576" width="1" height="110" fill="#c0c0c0"/><rect x="527" y="579" width="1" height="107" fill="#c0c0c0"/><rect x="535" y="581" width="1" height="105" fill="#c0c0c0"/><rect x="543" y="580" width="1" height="106" fill="#c0c0c0"/><rect x="551" y="581" width="1" height="105" fill="#c0c0c0"/><rect x="559" y="583" width="1" height="103" fill="#c0c0c0"/><rect x="567" y="588" width="1" height="98" fill="#c0c0c0"/><rect x="575" y="592" width="1" height="94" fill="#c0c0c0"/><rect x="583" y="604" width="1" height="82" fill="#c0c0c0"/><rect x="591" y="612" width="1" height="74" fill="#c0c0c0"/><rect x="599" y="623" width="1" height="63" fill="#c0c0c0"/><rect x="607" y="636" width="1" height="50" fill="#c0c0c0"/><rect x="615" y="655" width="1" height="31" fill="#c0c0c0"/><rect x="623" y="671" width="1" height="15" fill="#c0c0c0"/><rect x="631" y="684" width="1" height="2" fill="#c0c0c0"/><rect x="639" y="686" width="1" height="11" fill="#c0c0c0"/><rect x="647" y="686" width="1" height="22" fill="#c0c0c0"/><rect x="655" y="686" width="1" height="29" fill="#c0c0c0"/><rect x="663" y="686" width="1" height="36" fill="#c0c0c0"/><rect x="671" y="686" width="1" height="39" fill="#c0c0c0"/><rect x="679" y="686" width="1" height="42" fill="#c0c0c0"/><rect x="687" y="686" width="1" height="43" fill="#c0c0c0"/><rect x="695" y="686" width="1" height="42" fill="#c0c0c0"/><rect x="703" y="686" width="1" height="45" fill="#c0c0c0"/><rect x="711" y="686" width="1" height="53" fill="#c0c0c0"/><rect x="719" y="686" width="1" height="60" fill="#c0c0c0"/><rect x="727" y="686" width="1" height="64" fill="#c0c0c0"/><rect x="735" y="686" width="1" height="66" fill="#c0c0c0"/><rect x="743" y="686" width="1" height="67" fill="#c0c0c0"/><rect x="751" y="686" width="1" height="66" fill="#c0c0c0"/><rect x="759" y="686" width="1" height="61" fill="#c0c0c0"/><rect x="767" y="686" width="1" height="59" fill="#c0c0c0"/><rect x="775" y="686" width="1" height="58" fill="#c0c0c0"/><rect x="783" y="686" width="1" height="58" fill="#c0c0c0"/><rect x="791" y="686" width="1" height="56" fill="#c0c0c0"/><rect x="799" y="686" width="1" height="57" fill="#c0c0c0"/><rect x="807" y="686" width="1" height="62" fill="#c0c0c0"/><rect x="815" y="686" width="1" height="66" fill="#c0c0c0"/><rect x="823" y="686" width="1" height="67" fill="#c0c0c0"/><rect x="831" y="686" width="1" height="67" fill="#c0c0c0"/><rect x="839" y="686" width="1" height="67" fill="#c0c0c0"/><rect x="847" y="686" width="1" height="63" fill="#c0c0c0"/><rect x="855" y="686" width="1" height="62" fill="#c0c0c0"/><rect x="863" y="686" width="1" height="59" fill="#c0c0c0"/><rect x="871" y="686" width="1" height="59" fill="#c0c0c0"/><rect x="879" y="686" width="1" height="54" fill="#c0c0c0"/><rect x="887" y="686" width="1" height="46" fill="#c0c0c0"/><rect x="895" y="686" width="1" height="38" fill="#c0c0c0"/><rect x="903" y="686" width="1" height="34" fill="#c0c0c0"/><rect x="911" y="686" width="1" height="25" fill="#c0c0c0"/><rect x="919" y="686" width="1" height="19" fill="#c0c0c0"/><rect x="927" y="686" width="1" height="15" fill="#c0c0c0"/><rect x="935" y="686" width="1" height="11" fill="#c0c0c0"/><rect x="943" y="686" width="1" height="5" fill="#c0c0c0"/><rect x="951" y="682" width="1" height="4" fill="#c0c0c0"/><rect x="959" y="673" width="1" height="13" fill="#c0c0c0"/><rect x="967" y="668" width="1" height="18" fill="#c0c0c0"/><rect x="975" y="665" width="1" height="21" fill="#c0c0c0"/><rect x="983" y="663" width="1" height="23" fill="#c0c0c0"/><rect x="991" y="662" width="1" height="24" fill="#c0c0c0"/><rect x="999" y="661" width="1" height="25" fill="#c0c0c0"/><rect x="1007" y="663" width="1" height="23" fill="#c0c0c0"/><rect x="1015" y="666" width="1" height="20" fill="#c0c0c0"/><rect x="1023" y="669" width="1" height="17" fill="#c0c0c0"/><rect x="1031" y="673" width="1" height="13" fill="#c0c0c0"/><rect x="1039" y="675" width="1" height="11" fill="#c0c0c0"/><rect x="1047" y="671" width="1" height="15" fill="#c0c0c0"/><rect x="1055" y="663" width="1" height="23" fill="#c0c0c0"/><rect x="1063" y="658" width="1" height="28" fill="#c0c0c0"/><rect x="1071" y="654" width="1" height="32" fill="#c0c0c0"/><rect x="1079" y="650" width="1" height="36" fill="#c0c0c0"/><rect x="1087" y="651" width="1" height="35" fill="#c0c0c0"/><rect x="1095" y="651" width="1" height="35" fill="#c0c0c0"/><rect x="1103" y="653" width="1" height="33" fill="#c0c0c0"/><rect x="1111" y="662" width="1" height="24" fill="#c0c0c0"/><rect x="1119" y="671" width="1" height="15" fill="#c0c0c0"/><rect x="1127" y="677" width="1" height="9" fill="#c0c0c0"/><rect x="1135" y="685" width="1" height="1" fill="#c0c0c0"/><rect x="1143" y="686" width="1" height="16" fill="#c0c0c0"/><rect x="1151" y="686" width="1" height="30" fill="#c0c0c0"/><rect x="1159" y="686" width="1" height="38" fill="#c0c0c0"/><rect x="1167" y="686" width="1" height="45" fill="#c0c0c0"/><rect x="1175" y="686" width="1" height="49" fill="#c0c0c0"/><rect x="1183" y="686" width="1" height="51" fill="#c0c0c0"/><rect x="1191" y="686" width="1" height="53" fill="#c0c0c0"/><rect x="1199" y="686" width="1" height="45" fill="#c0c0c0"/><rect x="1207" y="686" width="1" height="36" fill="#c0c0c0"/><rect x="1215" y="686" width="1" height="27" fill="#c0c0c0"/><rect x="1223" y="686" width="1" height="19" fill="#c0c0c0"/><rect x="1231" y="686" width="1" height="11" fill="#c0c0c0"/><rect x="1239" y="686" width="1" height="10" fill="#c0c0c0"/><rect x="1247" y="686" width="1" height="7" fill="#c0c0c0"/><rect x="1255" y="686" width="1" height="6" fill="#c0c0c0"/><rect x="1263" y="686" width="1" height="5" fill="#c0c0c0"/><rect x="1271" y="686" width="1" height="11" fill="#c0c0c0"/><rect x="1279" y="686" width="1" height="10" fill="#c0c0c0"/><rect x="1287" y="686" width="1" height="5" fill="#c0c0c0"/><rect x="1295" y="686" width="1" height="4" fill="#c0c0c0"/><rect x="1303" y="686" width="1" height="4" fill="#c0c0c0"/><rect x="1311" y="683" width="1" height="3" fill="#c0c0c0"/><rect x="1319" y="679" width="1" height="7" fill="#c0c0c0"/><polyline points="0.5,659.4 7.0,656.2 13.5,653.5 26.6,651.4 44.0,650.7 57.0,651.4 65.7,652.2 80.9,652.9 94.0,655.5 109.2,658.8 122.2,662.2 135.3,667.0 150.5,672.5 165.7,675.7 183.1,675.3 196.2,671.8 207.0,667.0 220.1,660.5 230.9,654.0 241.8,646.4 254.8,638.8 267.9,634.0 289.6,634.0 300.5,636.6 313.5,640.9 330.5,645.7 341.4,649.2 354.4,652.9 374.0,655.7 395.7,658.8 421.8,661.6 439.2,662.7 474.0,662.7 487.0,657.2 497.9,647.5 510.9,630.1 521.8,617.5 537.0,602.9 552.2,585.5 567.4,580.1 576.2,581.2 591.4,588.8 606.6,597.9 619.6,612.7 630.5,625.7 639.2,640.9 650.1,656.2 660.9,675.7 671.4,690.9 682.2,705.1 693.1,713.8 704.0,720.3 719.2,727.9 736.6,736.6 747.5,739.8 762.7,744.2 777.9,747.5 801.8,747.0 827.9,747.0 845.3,748.5 867.0,749.6 877.9,748.5 888.8,745.7 906.2,738.3 921.4,727.9 934.4,720.9 947.5,710.1 960.5,699.6 971.4,690.9 984.4,683.3 997.5,673.5 1007.9,669.2 1018.8,665.9 1042.7,665.9 1049.2,667.0 1064.4,667.0 1077.5,663.8 1094.8,661.6 1105.7,657.2 1120.9,656.6 1131.8,660.1 1142.7,665.9 1153.5,675.7 1164.4,687.7 1175.3,699.6 1186.2,711.6 1197.0,721.4 1207.9,724.6 1216.6,727.5 1229.6,722.5 1242.7,717.0 1255.7,708.3 1266.6,701.8 1279.6,697.5 1290.5,693.5 1305.7,692.0 1318.8,689.8" fill="none" stroke="#ff0000" stroke-width="1" stroke-dasharray="3,3"/></g><text x="3.2" y="574" font-size="10" fill="#000" textLength="128.37" lengthAdjust="spacingAndGlyphs">MACD(12,26,9) 0.0625 -0.0367</text><text x="1630.6" y="571.5" font-size="10" fill="#000" textLength="28.14" lengthAdjust="spacingAndGlyphs">1.1277</text><text x="1630.6" y="689.5" font-size="10" fill="#000" textLength="17.91" lengthAdjust="spacingAndGlyphs">0.00</text><text x="1630.6" y="759.5" font-size="10" fill="#000" textLength="26.09" lengthAdjust="spacingAndGlyphs">-0.703</text><rect x="1628" y="562" width="2" height="1" fill="#000"/><rect x="1628" y="686" width="2" height="1" fill="#000"/><rect x="1628" y="761" width="2" height="1" fill="#000"/><g clip-path="url(#cRsi)" shape-rendering="crispEdges"><line x1="0" y1="797.5" x2="1627" y2="797.5" stroke="#c0c0c0" stroke-width="1" stroke-dasharray="3,3"/><line x1="0" y1="844.5" x2="1627" y2="844.5" stroke="#c0c0c0" stroke-width="1" stroke-dasharray="3,3"/><line x1="0" y1="900.5" x2="1627" y2="900.5" stroke="#c0c0c0" stroke-width="1" stroke-dasharray="3,3"/><polyline points="0.5,824.8 7.6,823.8 14.7,824.8 22.9,822.8 32.0,827.9 40.1,819.8 47.2,821.4 55.8,829.9 63.9,823.8 71.6,827.5 79.8,829.5 87.9,850.9 96.0,847.8 104.2,847.8 112.3,840.3 120.4,835.0 128.5,836.0 136.3,850.9 143.8,848.4 151.9,842.7 160.1,845.2 168.2,852.9 175.7,824.4 183.4,813.3 191.6,811.8 199.7,813.3 207.8,811.2 215.9,806.8 224.1,808.2 232.2,806.8 241.4,806.8 248.5,808.8 256.2,810.6 264.3,812.7 272.9,832.2 280.6,838.7 288.1,832.6 296.2,828.9 303.3,830.1 312.5,823.0 320.6,828.9 327.7,827.9 335.6,830.5 343.7,833.6 351.8,830.1 360.0,835.6 368.1,824.8 376.2,821.4 383.8,813.3 391.9,841.7 399.6,839.7 407.7,847.8 415.9,837.7 424.0,831.6 432.1,829.9 440.3,830.9 448.4,824.0 456.5,823.0 464.2,837.7 472.8,833.0 479.9,828.5 488.0,791.9 496.2,790.9 504.3,803.1 511.8,808.2 519.9,825.9 528.1,825.9 535.8,822.8 543.9,819.8 551.0,819.0 559.8,822.0 567.9,825.1 576.0,824.0 584.2,840.7 591.7,836.6 599.8,843.8 607.9,850.9 616.1,860.4 624.2,864.1 631.3,863.1 639.5,865.5 647.6,868.1 655.8,864.1 663.5,866.1 670.7,864.1 678.8,865.1 686.9,863.1 696.1,855.9 703.2,865.1 711.3,873.6 719.4,876.3 727.6,871.6 735.7,871.6 743.8,871.6 752.0,869.6 760.1,859.0 768.2,864.7 776.4,866.1 784.5,866.7 791.6,864.7 799.7,870.2 807.9,880.9 816.0,876.3 824.1,874.8 832.2,874.2 840.4,876.9 848.5,868.8 856.6,866.1 864.8,867.1 871.9,871.6 880.0,857.0 888.1,846.4 896.3,844.8 904.4,850.9 912.5,839.7 919.6,837.7 927.8,840.7 935.9,843.8 945.1,831.6 952.2,825.5 960.3,820.8 968.4,827.9 976.6,828.9 984.7,830.9 992.8,829.9 999.6,829.9 1007.8,839.7 1015.9,845.4 1024.0,844.8 1032.2,847.8 1039.3,845.2 1047.4,827.5 1055.5,817.9 1063.7,820.8 1071.8,817.9 1079.9,816.7 1088.1,832.6 1096.2,828.1 1104.3,835.0 1112.5,853.9 1120.6,859.4 1127.7,854.9 1135.8,865.1 1144.0,875.7 1152.1,878.9 1160.2,874.8 1168.3,872.8 1175.9,874.2 1184.6,869.2 1191.7,870.2 1199.8,847.2 1208.0,840.3 1216.1,836.6 1224.2,835.6 1232.4,833.6 1240.5,845.8 1248.6,842.7 1256.8,843.8 1263.9,845.8 1272.0,862.0 1280.1,846.4 1288.3,841.1 1296.4,842.7 1304.5,846.8 1312.7,832.6 1319.8,836.0" fill="none" stroke="#1e90ff" stroke-width="1"/></g><text x="3.2" y="777" font-size="10" fill="#000" textLength="67.51" lengthAdjust="spacingAndGlyphs">RSI(14) 55.8067</text><text x="1631" y="775.0" font-size="10" fill="#000" textLength="15.35" lengthAdjust="spacingAndGlyphs">100</text><text x="1631" y="801.0" font-size="10" fill="#000" textLength="10.23" lengthAdjust="spacingAndGlyphs">80</text><text x="1631" y="848.0" font-size="10" fill="#000" textLength="10.23" lengthAdjust="spacingAndGlyphs">50</text><text x="1631" y="903.5" font-size="10" fill="#000" textLength="10.23" lengthAdjust="spacingAndGlyphs">15</text><text x="1631" y="921.0" font-size="10" fill="#000" textLength="5.12" lengthAdjust="spacingAndGlyphs">0</text><rect x="1628" y="766" width="2" height="1" fill="#000"/><rect x="1628" y="797" width="2" height="1" fill="#000"/><rect x="1628" y="844" width="2" height="1" fill="#000"/><rect x="1628" y="900" width="2" height="1" fill="#000"/><rect x="63" y="925" width="1" height="3" fill="#000"/><text x="61.4" y="937" font-size="10" fill="#000" textLength="49.61" lengthAdjust="spacingAndGlyphs">2 Dec 00:00</text><rect x="127" y="925" width="1" height="3" fill="#000"/><text x="125.4" y="937" font-size="10" fill="#000" textLength="49.61" lengthAdjust="spacingAndGlyphs">3 Dec 08:00</text><rect x="191" y="925" width="1" height="3" fill="#000"/><text x="189.4" y="937" font-size="10" fill="#000" textLength="49.61" lengthAdjust="spacingAndGlyphs">4 Dec 16:00</text><rect x="255" y="925" width="1" height="3" fill="#000"/><text x="253.4" y="937" font-size="10" fill="#000" textLength="49.61" lengthAdjust="spacingAndGlyphs">6 Dec 00:00</text><rect x="319" y="925" width="1" height="3" fill="#000"/><text x="317.4" y="937" font-size="10" fill="#000" textLength="49.61" lengthAdjust="spacingAndGlyphs">9 Dec 08:00</text><rect x="383" y="925" width="1" height="3" fill="#000"/><text x="381.4" y="937" font-size="10" fill="#000" textLength="54.73" lengthAdjust="spacingAndGlyphs">10 Dec 16:00</text><rect x="447" y="925" width="1" height="3" fill="#000"/><text x="445.4" y="937" font-size="10" fill="#000" textLength="54.73" lengthAdjust="spacingAndGlyphs">12 Dec 00:00</text><rect x="511" y="925" width="1" height="3" fill="#000"/><text x="509.4" y="937" font-size="10" fill="#000" textLength="54.73" lengthAdjust="spacingAndGlyphs">13 Dec 08:00</text><rect x="575" y="925" width="1" height="3" fill="#000"/><text x="573.4" y="937" font-size="10" fill="#000" textLength="54.73" lengthAdjust="spacingAndGlyphs">16 Dec 16:00</text><rect x="639" y="925" width="1" height="3" fill="#000"/><text x="637.4" y="937" font-size="10" fill="#000" textLength="54.73" lengthAdjust="spacingAndGlyphs">18 Dec 00:00</text><rect x="703" y="925" width="1" height="3" fill="#000"/><text x="701.4" y="937" font-size="10" fill="#000" textLength="54.73" lengthAdjust="spacingAndGlyphs">19 Dec 08:00</text><rect x="767" y="925" width="1" height="3" fill="#000"/><text x="765.4" y="937" font-size="10" fill="#000" textLength="54.73" lengthAdjust="spacingAndGlyphs">20 Dec 16:00</text><rect x="831" y="925" width="1" height="3" fill="#000"/><text x="829.4" y="937" font-size="10" fill="#000" textLength="54.73" lengthAdjust="spacingAndGlyphs">24 Dec 00:00</text><rect x="895" y="925" width="1" height="3" fill="#000"/><text x="893.4" y="937" font-size="10" fill="#000" textLength="54.73" lengthAdjust="spacingAndGlyphs">26 Dec 04:00</text><rect x="959" y="925" width="1" height="3" fill="#000"/><text x="957.4" y="937" font-size="10" fill="#000" textLength="54.73" lengthAdjust="spacingAndGlyphs">27 Dec 12:00</text><rect x="1023" y="925" width="1" height="3" fill="#000"/><text x="1021.4" y="937" font-size="10" fill="#000" textLength="54.73" lengthAdjust="spacingAndGlyphs">30 Dec 20:00</text><rect x="1087" y="925" width="1" height="3" fill="#000"/><text x="1085.4" y="937" font-size="10" fill="#000" textLength="48.08" lengthAdjust="spacingAndGlyphs">2 Jan 00:00</text><rect x="1151" y="925" width="1" height="3" fill="#000"/><text x="1149.4" y="937" font-size="10" fill="#000" textLength="48.08" lengthAdjust="spacingAndGlyphs">3 Jan 08:00</text><rect x="1215" y="925" width="1" height="3" fill="#000"/><text x="1213.4" y="937" font-size="10" fill="#000" textLength="48.08" lengthAdjust="spacingAndGlyphs">6 Jan 16:00</text><rect x="1279" y="925" width="1" height="3" fill="#000"/><text x="1277.4" y="937" font-size="10" fill="#000" textLength="48.08" lengthAdjust="spacingAndGlyphs">8 Jan 00:00</text><text x="0.02751875000000581" y="937" font-size="10" fill="#000" textLength="52.17" lengthAdjust="spacingAndGlyphs">28 Nov 2019</text><defs><linearGradient id="gTab" x1="0" y1="44" x2="0" y2="68" gradientUnits="userSpaceOnUse"><stop offset="0" stop-color="#fa5656"/><stop offset="1" stop-color="#e23232"/></linearGradient><linearGradient id="gBody" x1="0" y1="68" x2="0" y2="108" gradientUnits="userSpaceOnUse"><stop offset="0" stop-color="#e03034"/><stop offset="1" stop-color="#b20006"/></linearGradient></defs><path d="M2.5 44.5H53.5V68H110.5V107.5H2.5Z" fill="url(#gTab)" stroke="#b00000" stroke-width="1"/><rect x="3" y="68" width="107" height="39" fill="url(#gBody)"/><rect x="6" y="67" width="44" height="1" fill="#7a0000"/><rect x="6" y="68" width="44" height="1" fill="#ff7070"/><path d="M220.5 44.5H169.5V68H113.5V107.5H220.5Z" fill="url(#gTab)" stroke="#b00000" stroke-width="1"/><rect x="114" y="68" width="106" height="39" fill="url(#gBody)"/><rect x="173" y="67" width="44" height="1" fill="#7a0000"/><rect x="173" y="68" width="44" height="1" fill="#ff7070"/><rect x="56" y="44" width="111" height="22" fill="#a9a9a9"/><rect x="57" y="45" width="109" height="20" fill="#ffffff"/><rect x="57" y="45" width="20" height="20" fill="#e6e6e6"/><rect x="77" y="45" width="1" height="20" fill="#b0b0b0"/><rect x="146" y="45" width="20" height="20" fill="#e6e6e6"/><rect x="145" y="45" width="1" height="20" fill="#b0b0b0"/><polygon points="63.5,53 69.5,53 66.5,56" fill="#000"/><polygon points="152.5,56 158.5,56 155.5,53" fill="#000"/><text x="118.5" y="59" font-size="12" fill="#000" textLength="23.5" lengthAdjust="spacingAndGlyphs">1.00</text><text x="14" y="60" font-size="12.8" fill="#fff" textLength="25.8" lengthAdjust="spacingAndGlyphs">SELL</text><text x="182.5" y="60" font-size="12.8" fill="#fff" textLength="23" lengthAdjust="spacingAndGlyphs">BUY</text><text x="25.5" y="99" font-size="12" fill="#fff" textLength="20.5" lengthAdjust="spacingAndGlyphs" font-weight="bold">142</text><text x="48.5" y="99.2" font-size="34" fill="#fff" textLength="36" lengthAdjust="spacingAndGlyphs">92</text><text x="88.5" y="83.2" font-size="12.5" fill="#fff" textLength="7.5" lengthAdjust="spacingAndGlyphs" font-weight="bold">4</text><text x="135.7" y="99" font-size="12" fill="#fff" textLength="20.5" lengthAdjust="spacingAndGlyphs" font-weight="bold">142</text><text x="160.3" y="99.8" font-size="34" fill="#fff" textLength="34.5" lengthAdjust="spacingAndGlyphs">96</text><text x="199.7" y="82.7" font-size="12.5" fill="#fff" textLength="7.5" lengthAdjust="spacingAndGlyphs" font-weight="bold">2</text><rect x="224" y="0" width="1" height="19" fill="#a0a0a0"/><rect x="225" y="0" width="1" height="19" fill="#ffffff"/><rect x="319" y="0" width="1" height="19" fill="#a0a0a0"/><rect x="320" y="0" width="1" height="19" fill="#ffffff"/><rect x="409" y="0" width="1" height="19" fill="#a0a0a0"/><rect x="410" y="0" width="1" height="19" fill="#ffffff"/><rect x="414" y="0" width="1" height="19" fill="#a0a0a0"/><rect x="415" y="0" width="1" height="19" fill="#ffffff"/><rect x="442" y="0" width="1" height="19" fill="#a0a0a0"/><rect x="443" y="0" width="1" height="19" fill="#ffffff"/><rect x="471" y="0" width="1" height="19" fill="#a0a0a0"/><rect x="472" y="0" width="1" height="19" fill="#ffffff"/><rect x="592" y="0" width="1" height="19" fill="#a0a0a0"/><rect x="593" y="0" width="1" height="19" fill="#ffffff"/><rect x="602" y="0" width="1" height="19" fill="#a0a0a0"/><rect x="603" y="0" width="1" height="19" fill="#ffffff"/><rect x="659" y="0" width="1" height="19" fill="#a0a0a0"/><rect x="660" y="0" width="1" height="19" fill="#ffffff"/><rect x="898" y="0" width="1" height="19" fill="#a0a0a0"/><rect x="899" y="0" width="1" height="19" fill="#ffffff"/><rect x="1048" y="0" width="1" height="19" fill="#a0a0a0"/><rect x="1049" y="0" width="1" height="19" fill="#ffffff"/><rect x="1159" y="0" width="1" height="19" fill="#a0a0a0"/><rect x="1160" y="0" width="1" height="19" fill="#ffffff"/><rect x="228" y="1" width="3" height="1" fill="#a8a8a8"/><rect x="228" y="3" width="3" height="1" fill="#a8a8a8"/><rect x="228" y="5" width="3" height="1" fill="#a8a8a8"/><rect x="228" y="7" width="3" height="1" fill="#a8a8a8"/><rect x="228" y="9" width="3" height="1" fill="#a8a8a8"/><rect x="228" y="11" width="3" height="1" fill="#a8a8a8"/><rect x="228" y="13" width="3" height="1" fill="#a8a8a8"/><rect x="228" y="15" width="3" height="1" fill="#a8a8a8"/><rect x="228" y="17" width="3" height="1" fill="#a8a8a8"/><rect x="596" y="1" width="3" height="1" fill="#a8a8a8"/><rect x="596" y="3" width="3" height="1" fill="#a8a8a8"/><rect x="596" y="5" width="3" height="1" fill="#a8a8a8"/><rect x="596" y="7" width="3" height="1" fill="#a8a8a8"/><rect x="596" y="9" width="3" height="1" fill="#a8a8a8"/><rect x="596" y="11" width="3" height="1" fill="#a8a8a8"/><rect x="596" y="13" width="3" height="1" fill="#a8a8a8"/><rect x="596" y="15" width="3" height="1" fill="#a8a8a8"/><rect x="596" y="17" width="3" height="1" fill="#a8a8a8"/><rect x="902" y="1" width="3" height="1" fill="#a8a8a8"/><rect x="902" y="3" width="3" height="1" fill="#a8a8a8"/><rect x="902" y="5" width="3" height="1" fill="#a8a8a8"/><rect x="902" y="7" width="3" height="1" fill="#a8a8a8"/><rect x="902" y="9" width="3" height="1" fill="#a8a8a8"/><rect x="902" y="11" width="3" height="1" fill="#a8a8a8"/><rect x="902" y="13" width="3" height="1" fill="#a8a8a8"/><rect x="902" y="15" width="3" height="1" fill="#a8a8a8"/><rect x="902" y="17" width="3" height="1" fill="#a8a8a8"/><rect x="263" y="0" width="24" height="19" fill="#f8f8f8"/><rect x="415" y="0" width="24" height="19" fill="#f8f8f8"/><rect x="443" y="0" width="24" height="19" fill="#f8f8f8"/><rect x="603" y="0" width="24" height="19" fill="#f8f8f8"/><rect x="1049" y="0" width="24" height="19" fill="#f8f8f8"/><path d="M0.5 0.5H7L9.5 3V12.5H0.5Z" fill="#fafafa" stroke="#8a8a8a"/><rect x="1" y="3" width="5" height="1.2" fill="#909090"/><rect x="1" y="8" width="6" height="1.2" fill="#909090"/><path d="M6.5 6.5H9.5V9.5H13.5V13.5H9.5V17.5H6.5V13.5H2.5V9.5H6.5Z" fill="#3ee83e" stroke="#0a900a"/><path transform="translate(17,0.5)" d="M3 0.3V1.6 M0.6 2.2H6 M1.6 3.3L2.2 4.6 M4.6 3.2L4 4.6 M0.2 5.2H6.4 M0.4 7.3H6.2 M3.2 5.2V11.6 M3 7.6L0.6 10.4 M3.6 8L5.6 9.6 M11.2 0.6L7.8 2 M7.6 2V7Q7.6 9.6 6.4 11.6 M7.6 5.2H11.8 M10 5.2V11.8" fill="none" stroke="#000" stroke-width="1.05" stroke-linecap="square"/><path transform="translate(29,0.5)" d="M1 0.8L2.2 2.2 M0.4 4.4H2.2V10.4L3.6 8.8 M4.6 2H11.6 M8.6 2V11.2L7.2 10.4" fill="none" stroke="#000" stroke-width="1.05" stroke-linecap="square"/><path transform="translate(41,0.5)" d="M3 0.2L4 1.6 M8.8 0.2L7.8 1.6 M1.6 2.6H10.4V7.6H1.6Z M1.6 5.1H10.4 M6 2.6V12 M0.2 9.6H11.8" fill="none" stroke="#000" stroke-width="1.05" stroke-linecap="square"/><path transform="translate(169.5,0.5)" d="M5.6 0L4.6 1.6 M2 2.2H10V11.6H2Z M2 5.3H10 M2 8.4H10" fill="none" stroke="#000" stroke-width="1.05" stroke-linecap="square"/><path transform="translate(181.5,0.5)" d="M0.6 2H5 M0 4.8H5.8 M3 4.8L0.8 10L5.4 9 M3.8 7.6L5.6 10 M6.4 4H11.2V10.6L10 10.2 M8.8 0.6V4.4Q8.6 8.6 6.4 11.4" fill="none" stroke="#000" stroke-width="1.05" stroke-linecap="square"/><path transform="translate(193.5,0.5)" d="M6 0V1.6 M0.4 2.6H11.6 M4 3.8L2 6 M8 3.8L10 6 M3.2 6.2L10.8 11.6 M8.8 6.2L1 11.6" fill="none" stroke="#000" stroke-width="1.05" stroke-linecap="square"/><path transform="translate(205.5,0.5)" d="M3 0.4H9V5.4H3Z M3 2.9H9 M2.6 6.6H10.8V11L9.6 10.6 M4 6.6L0.8 10 M6.2 7.6L3.8 11 M8.8 7.6L6.4 11" fill="none" stroke="#000" stroke-width="1.05" stroke-linecap="square"/><path d="M70.8 1.3L79.7 7.5L80.7 10.5L73.2 15.6L65.3 9.6L69.6 5Z" fill="#e6b41e" stroke="#9a5a10" stroke-width="1"/><path d="M66.5 10L73 14.5L80 10" fill="none" stroke="#f4dc8a" stroke-width="1"/><rect x="95.5" y="0" width="10.5" height="9" fill="#1898f0"/><rect x="99" y="4" width="6" height="1.5" fill="#cfe8ff"/><path d="M94 14.5Q92.5 11 96 10.5Q97 8 100 8.7Q102 7.5 104 9Q108.5 9 108.5 12.5Q108.5 15.2 105 15.2H96Q94 15.2 94 14.5Z" fill="#dde3ee" stroke="#4a6aa0" stroke-width="1"/><circle cx="129" cy="8" r="7.2" fill="none" stroke="#6a90d8" stroke-width="1.2" opacity="0.8"/><circle cx="129" cy="8" r="4.5" fill="none" stroke="#88a8d8" stroke-width="1.1" opacity="0.8"/><path d="M129 8L129 15.5A7.5 7.5 0 0 0 136.5 8Z" fill="#8ccf8c" opacity="0.7"/><circle cx="129" cy="8" r="2" fill="#2050c8"/><rect x="128.5" y="8" width="1.5" height="7.5" fill="#18a018"/><path d="M148.5 7.5H163.5L156 15.5Z" fill="#f4dc50" stroke="#c09010" stroke-width="1"/><ellipse cx="156" cy="4.5" rx="7.5" ry="2.8" fill="#58b0e8" stroke="#2878b0" stroke-width="1"/><ellipse cx="155.5" cy="2" rx="3" ry="2.5" fill="#70c0f0"/><circle cx="160.5" cy="11.5" r="4.2" fill="#e02010" stroke="#b01000" stroke-width="0.8"/><rect x="158.8" y="9.8" width="3.4" height="3.4" fill="#fff"/><path d="M242.5 2V16 M240 13.5H254" stroke="#555" stroke-width="1.2" fill="none"/><path d="M241.0 4L242.5 1.5L244 4Z M253 12L255.5 13.5L253 15Z" fill="#555"/><path d="M246 10.5H248V3.5H250.5" stroke="#20a020" stroke-width="1.3" fill="none"/><path d="M270.5 2V16 M268 13.5H282" stroke="#555" stroke-width="1.2" fill="none"/><path d="M269.0 4L270.5 1.5L272 4Z M281 12L283.5 13.5L281 15Z" fill="#555"/><rect x="276" y="0" width="1.2" height="12" fill="#119911"/><rect x="274" y="2.5" width="5" height="7" fill="#50e050" stroke="#119911" stroke-width="1"/><path d="M298.5 2V16 M296 13.5H310" stroke="#555" stroke-width="1.2" fill="none"/><path d="M297.0 4L298.5 1.5L300 4Z M309 12L311.5 13.5L309 15Z" fill="#555"/><path d="M297.5 10.5Q303 3 305 5T309 9" stroke="#20a020" stroke-width="1.2" fill="none"/><path d="M337.3 9.5L342.8 15" stroke="#c09010" stroke-width="3"/><path d="M337.3 9.5L342.8 15" stroke="#f0d040" stroke-width="1.5"/><circle cx="333.8" cy="5.7" r="5.2" fill="#dcf0fb" stroke="#2a70c0" stroke-width="1.2"/><rect x="330.8" y="5" width="6" height="1.6" fill="#3a7ab0"/><rect x="333.0" y="2.6" width="1.6" height="6" fill="#3a7ab0"/><path d="M365.4 9.5L370.9 15" stroke="#c09010" stroke-width="3"/><path d="M365.4 9.5L370.9 15" stroke="#f0d040" stroke-width="1.5"/><circle cx="361.9" cy="5.7" r="5.2" fill="#dcf0fb" stroke="#2a70c0" stroke-width="1.2"/><rect x="358.9" y="5" width="6" height="1.6" fill="#3a7ab0"/><rect x="384" y="0" width="7.5" height="7.5" fill="#2a9a2a"/><rect x="385" y="3" width="5.5" height="3" fill="#fff"/><rect x="392" y="0" width="7.5" height="7.5" fill="#2050c0"/><rect x="393" y="3" width="5.5" height="3" fill="#fff"/><rect x="384" y="8" width="7.5" height="7.5" fill="#2050c0"/><rect x="385" y="11" width="5.5" height="3" fill="#fff"/><rect x="392" y="8" width="7.5" height="7.5" fill="#2a9a2a"/><rect x="393" y="11" width="5.5" height="3" fill="#fff"/><path d="M422.5 2V16 M420 13.5H434" stroke="#555" stroke-width="1.2" fill="none"/><path d="M421.0 4L422.5 1.5L424 4Z M433 12L435.5 13.5L433 15Z" fill="#555"/><path d="M427 4L431 7.5L427 11Z" fill="#50d050" stroke="#109010" stroke-width="1"/><path d="M450.5 2V16 M448 13.5H462" stroke="#555" stroke-width="1.2" fill="none"/><path d="M449.0 4L450.5 1.5L452 4Z M461 12L463.5 13.5L461 15Z" fill="#555"/><rect x="456" y="2" width="1.2" height="10" fill="#1a6ab0"/><path d="M457.5 7.5L460 5.5V7H462.5V8H460V9.5Z" fill="#e05010"/><path d="M481.5 0.5H489.5L492.5 3.5V13.5H481.5Z" fill="#fafafa" stroke="#8a8a8a"/><path d="M484 4Q483 7 484 11" stroke="#444" fill="none"/><path d="M489.5 6.5H492.5V10H496.5V14H492.5V17.5H489.5V14H485.5V10H489.5Z" fill="#3ee83e" stroke="#0a900a"/><path d="M503 7H508.5L505.75 10Z" fill="#000"/><path d="M541.5 7H547.0L544.25 10Z" fill="#000"/><path d="M580.5 7H586.0L583.25 10Z" fill="#000"/><path d="M887 7H892.5L889.75 10Z" fill="#000"/><circle cx="526.8" cy="8.4" r="6.6" fill="#fff" stroke="#1a6ad0" stroke-width="2.2"/><path d="M526.2 4.5V8.6H529.5" stroke="#111" stroke-width="1.1" fill="none"/><rect x="558.5" y="1.5" width="15" height="13" fill="#fff" stroke="#3a78c8" stroke-width="1"/><rect x="559" y="2" width="14" height="1.8" fill="#5a90d8"/><rect x="559" y="9" width="14" height="0.8" fill="#3a78c8"/><path d="M560 7.5L562 7L564 6L566 6.5L568 5.5" stroke="#b02010" stroke-width="1" fill="none"/><path d="M561 12.5L563 12L565 12.5L567 11L569 12" stroke="#20a020" stroke-width="1" fill="none"/><path d="M610.2 1L618 8.5L614.6 9L616.6 13.8L615 14.6L613 9.8L610.2 12.5Z" fill="#505050"/><path d="M635 8.5H641.5M643.5 8.5H650M642.5 1V7.5M642.5 9.5V16" stroke="#505050" stroke-width="1.1"/><rect x="676" y="2" width="1.2" height="13" fill="#505050"/><rect x="699" y="8" width="12" height="1.3" fill="#505050"/><path d="M726.8 14.6L739 3" stroke="#505050" stroke-width="1"/><path d="M753 9.5L760.5 2M754 14L766 4M756 14.5L765.5 6" stroke="#505050" stroke-width="1" fill="none"/><path d="M754 10.5L756 14M757 8L759 11.5M760 5.5L762 9M763.5 3L764 0" stroke="#505050" stroke-width="1" fill="none"/><path d="M768 12.2H764.5V17H768M764.5 14.6H767.5" stroke="#404040" stroke-width="1.1" fill="none"/><path d="M782 1.4H794" stroke="#505050" stroke-width="1" stroke-dasharray="1,1" fill="none"/><path d="M782 4.3H794" stroke="#505050" stroke-width="1" stroke-dasharray="1,1" fill="none"/><path d="M782 8.4H794" stroke="#505050" stroke-width="1" stroke-dasharray="1,1" fill="none"/><path d="M782 12.4H794" stroke="#505050" stroke-width="1" stroke-dasharray="1,1" fill="none"/><path d="M796 12.5H792.6V17.5M792.6 14.8H795.5" stroke="#404040" stroke-width="1.2" fill="none"/><text x="812.6" y="13.2" font-size="12" font-weight="bold" fill="#505050" textLength="8" lengthAdjust="spacingAndGlyphs">A</text><rect x="839.5" y="1.5" width="12" height="13" fill="none" stroke="#505050" stroke-width="1" stroke-dasharray="1,1"/><path d="M841.5 5.3H849M845.3 5.3V12.5" stroke="#505050" stroke-width="1.6" fill="none"/><path d="M869 4L871.5 1.8L874 4Z M873.5 12L876.5 9.8L880 12L876.5 15Z" fill="#505050"/><path d="M868.5 8L871 10.5L875 6" stroke="#505050" stroke-width="1.2" fill="none"/><text x="913.1" y="12.3" font-size="9.6" fill="#4a4a4a" textLength="13.6" lengthAdjust="spacingAndGlyphs">M1</text><text x="941.2" y="12.3" font-size="9.6" fill="#4a4a4a" textLength="13.4" lengthAdjust="spacingAndGlyphs">M5</text><text x="967.4000000000001" y="12.3" font-size="9.6" fill="#4a4a4a" textLength="18.200000000000003" lengthAdjust="spacingAndGlyphs">M15</text><text x="995.4000000000001" y="12.3" font-size="9.6" fill="#4a4a4a" textLength="18.3" lengthAdjust="spacingAndGlyphs">M30</text><text x="1026.3" y="12.3" font-size="9.6" fill="#4a4a4a" textLength="12.5" lengthAdjust="spacingAndGlyphs">H1</text><text x="1053.2" y="12.3" font-size="9.6" fill="#4a4a4a" textLength="13.1" lengthAdjust="spacingAndGlyphs">H4</text><text x="1082.0" y="12.3" font-size="9.6" fill="#4a4a4a" textLength="12.6" lengthAdjust="spacingAndGlyphs">D1</text><text x="1109.6000000000001" y="12.3" font-size="9.6" fill="#4a4a4a" textLength="14.7" lengthAdjust="spacingAndGlyphs">W1</text><text x="1136.0" y="12.3" font-size="9.6" fill="#4a4a4a" textLength="15.6" lengthAdjust="spacingAndGlyphs">MN</text><circle cx="1629.6" cy="5.3" r="3.8" fill="#f4f6ff" stroke="#2a6ad8" stroke-width="1.2"/><path d="M1626.5 8.5L1622.5 12.8" stroke="#2a6ad8" stroke-width="2"/><ellipse cx="1662.5" cy="5" rx="6" ry="4.4" fill="#f0f0f4" stroke="#8a8a8a" stroke-width="1"/><path d="M1664 9L1665.5 11.5L1662 9.4" fill="#8a8a8a"/><ellipse cx="1655" cy="9" rx="5.2" ry="3.8" fill="#f4f4f8" stroke="#8a8a8a" stroke-width="1"/><path d="M1652 12.5L1650.5 14.5L1654 12.6" fill="#8a8a8a"/><path transform="translate(1,1)" d="M1379.5 292.2L1366 300.6 M1377.2 296.1H1390L1365.7 306.9 M1374.4 298.4L1378 301.6 M1381.1 304.3L1367.3 314 M1378.3 307.9H1391.3Q1383 318 1364.4 319.9 M1375.6 310.6L1379 314.4 M1408.7 291.9L1413.4 295 M1400.6 295.5L1399.6 300.4 M1400.4 297H1425.4L1423 300.2 M1408.4 299.2L1398.6 305.9 M1414.4 299.4L1423.8 305 M1401 307.1H1421.3 M1412 307.1V318.9 M1397.8 318.9H1425.8 M1429.6 296.5H1441.4 M1437.3 292.1L1431.3 305H1441 M1437.8 300.2V320.2 M1429.6 313.6L1441.4 310 M1444.3 297.8H1458.5 M1443.4 303.9H1459.7 M1450.8 292.1L1446.5 309.4H1456.5L1452.2 316.2 M1445 313.2L1454.8 319.7 M1463.4 298.6H1476 M1470.7 291.7V318.9L1464.8 316.4 M1463.4 308.6L1475.6 303.4 M1490.6 293.4L1477.8 295.6 M1478.4 295V310Q1478 316 1472 320.2 M1478.4 303.4H1492.6 M1485.7 303.4V320.2 M1510.2 291.4V302.4 M1511.2 296.4H1523.6 M1502.6 302.4H1519.4V309.9H1502.6Z M1501.1 314.3L1498.6 319.3 M1506.4 314.3L1508.9 319.3 M1512.9 314.3L1515.9 319.3 M1519.8 314.3L1523.4 319.3" fill="none" stroke="#000" stroke-width="2.5" stroke-linejoin="miter"/><path d="M1379.5 292.2L1366 300.6 M1377.2 296.1H1390L1365.7 306.9 M1374.4 298.4L1378 301.6 M1381.1 304.3L1367.3 314 M1378.3 307.9H1391.3Q1383 318 1364.4 319.9 M1375.6 310.6L1379 314.4 M1408.7 291.9L1413.4 295 M1400.6 295.5L1399.6 300.4 M1400.4 297H1425.4L1423 300.2 M1408.4 299.2L1398.6 305.9 M1414.4 299.4L1423.8 305 M1401 307.1H1421.3 M1412 307.1V318.9 M1397.8 318.9H1425.8 M1429.6 296.5H1441.4 M1437.3 292.1L1431.3 305H1441 M1437.8 300.2V320.2 M1429.6 313.6L1441.4 310 M1444.3 297.8H1458.5 M1443.4 303.9H1459.7 M1450.8 292.1L1446.5 309.4H1456.5L1452.2 316.2 M1445 313.2L1454.8 319.7 M1463.4 298.6H1476 M1470.7 291.7V318.9L1464.8 316.4 M1463.4 308.6L1475.6 303.4 M1490.6 293.4L1477.8 295.6 M1478.4 295V310Q1478 316 1472 320.2 M1478.4 303.4H1492.6 M1485.7 303.4V320.2 M1510.2 291.4V302.4 M1511.2 296.4H1523.6 M1502.6 302.4H1519.4V309.9H1502.6Z M1501.1 314.3L1498.6 319.3 M1506.4 314.3L1508.9 319.3 M1512.9 314.3L1515.9 319.3 M1519.8 314.3L1523.4 319.3" fill="none" stroke="#00ff00" stroke-width="2.5" stroke-linejoin="miter"/></svg>
</body></html>
